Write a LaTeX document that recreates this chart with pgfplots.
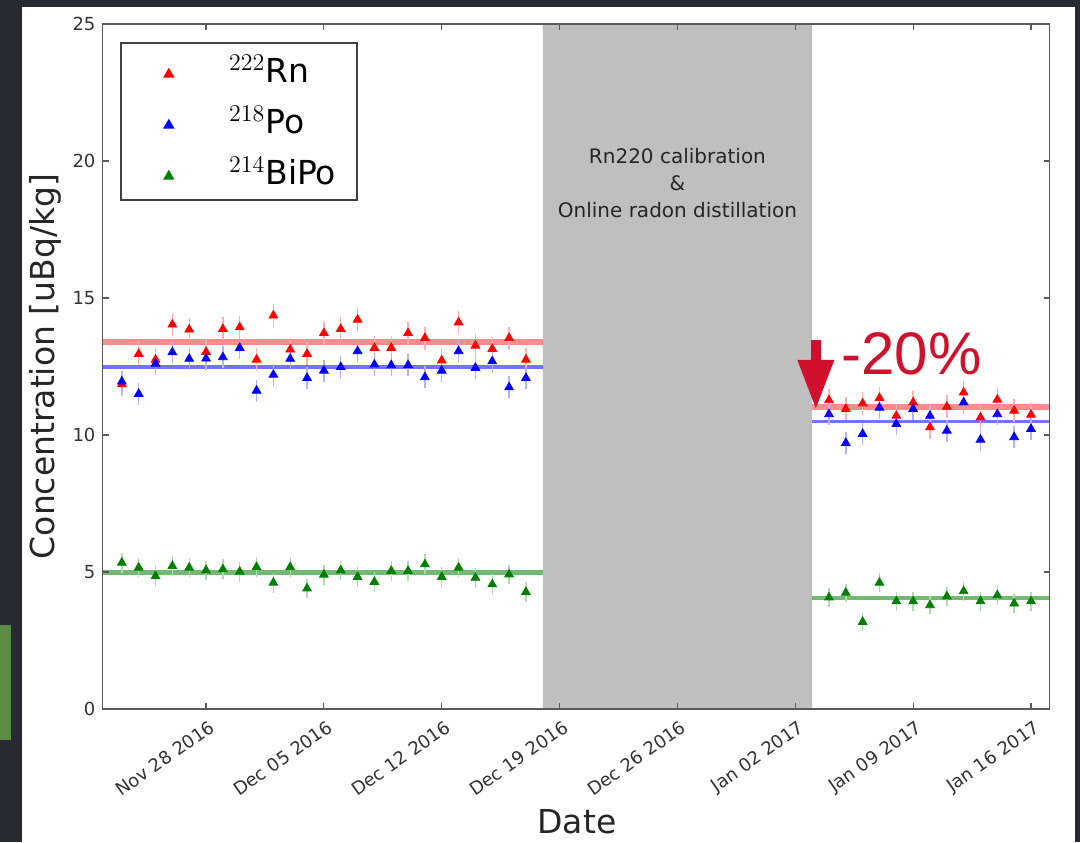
\documentclass[border=0pt]{standalone}
\usepackage{fontspec}
\setmainfont{DejaVu Sans}
\newfontfamily\helv{Liberation Sans}
\usepackage{pgfplots}
\pgfplotsset{compat=1.18}
\usepackage{pgfplotstable}
\usetikzlibrary{arrows.meta}

\definecolor{bgdark}{RGB}{40,41,50}
\definecolor{slidegreen}{RGB}{92,140,68}
\definecolor{bandgray}{RGB}{191,191,191}
\definecolor{annred}{RGB}{208,16,44}
\definecolor{mgreen}{RGB}{0,128,0}
\definecolor{framegray}{RGB}{90,90,90}

\pgfplotstableread{
x y e
-5 11.85 0.42
-4 12.96 0.42
-3 12.75 0.42
-2 14.03 0.42
-1 13.85 0.42
0 13.03 0.42
1 13.87 0.42
2 13.93 0.42
3 12.75 0.42
4 14.36 0.42
5 13.12 0.42
6 12.96 0.42
7 13.72 0.42
8 13.87 0.42
9 14.21 0.42
10 13.18 0.42
11 13.18 0.42
12 13.72 0.42
13 13.54 0.42
14 12.72 0.42
15 14.11 0.42
16 13.26 0.42
17 13.14 0.42
18 13.54 0.42
19 12.75 0.42
}\rnA
\pgfplotstableread{
x y e
37 11.27 0.42
38 10.95 0.42
39 11.15 0.42
40 11.35 0.42
41 10.70 0.42
42 11.19 0.42
43 10.28 0.42
44 11.03 0.42
45 11.55 0.42
46 10.64 0.42
47 11.29 0.42
48 10.89 0.42
49 10.74 0.42
}\rnB
\pgfplotstableread{
x y e
-5 11.95 0.40
-4 11.50 0.40
-3 12.60 0.40
-2 13.02 0.40
-1 12.78 0.40
0 12.79 0.40
1 12.84 0.40
2 13.18 0.40
3 11.62 0.40
4 12.20 0.40
5 12.78 0.40
6 12.08 0.40
7 12.35 0.40
8 12.48 0.40
9 13.06 0.40
10 12.57 0.40
11 12.55 0.40
12 12.55 0.40
13 12.11 0.40
14 12.35 0.40
15 13.06 0.40
16 12.45 0.40
17 12.69 0.40
18 11.74 0.40
19 12.08 0.40
}\poA
\pgfplotstableread{
x y e
37 10.76 0.40
38 9.71 0.40
39 10.04 0.40
40 11.00 0.40
41 10.40 0.40
42 10.95 0.40
43 10.70 0.40
44 10.16 0.40
45 11.19 0.40
46 9.83 0.40
47 10.76 0.40
48 9.92 0.40
49 10.22 0.40
}\poB
\pgfplotstableread{
x y e
-5 5.34 0.36
-4 5.16 0.36
-3 4.85 0.36
-2 5.22 0.36
-1 5.16 0.36
0 5.06 0.36
1 5.10 0.36
2 5.01 0.36
3 5.18 0.36
4 4.61 0.36
5 5.18 0.36
6 4.40 0.36
7 4.90 0.36
8 5.06 0.36
9 4.82 0.36
10 4.64 0.36
11 5.04 0.36
12 5.04 0.36
13 5.28 0.36
14 4.82 0.36
15 5.16 0.36
16 4.79 0.36
17 4.55 0.36
18 4.91 0.36
19 4.27 0.36
}\biA
\pgfplotstableread{
x y e
37 4.07 0.34
38 4.24 0.34
39 3.18 0.34
40 4.61 0.34
41 3.93 0.34
42 3.93 0.34
43 3.79 0.34
44 4.11 0.34
45 4.30 0.34
46 3.93 0.34
47 4.15 0.34
48 3.85 0.34
49 3.93 0.34
}\biB

\begin{document}
\begin{tikzpicture}
\fill[bgdark] (0,0) rectangle (540pt,421pt);
\fill[white] (11pt,0) rectangle (537.5pt,417.5pt);
\fill[slidegreen] (0,51pt) rectangle (5.5pt,108.5pt);
\begin{axis}[
  at={(51.25pt,66.5pt)}, anchor=south west,
  scale only axis, width=473.5pt, height=342.5pt,
  xmin=-6.15, xmax=50.1, ymin=0, ymax=25,
  xtick={0,7,14,21,28,35,42,49},
  xticklabels={Nov 28 2016,Dec 05 2016,Dec 12 2016,Dec 19 2016,Dec 26 2016,Jan 02 2017,Jan 09 2017,Jan 16 2017},
  ytick={0,5,10,15,20,25},
  /pgf/number format/assume math mode=true,
  tick align=inside, major tick length=3pt,
  tick style={framegray, line width=0.6pt},
  axis line style={framegray, line width=0.9pt},
  tick label style={font=\fontsize{9}{10}\selectfont, text=black!80},
  xticklabel style={xshift=1.5pt, yshift=-3pt, rotate=35, anchor=north east, inner sep=1.5pt},
  axis on top,
  xlabel={Date}, ylabel={Concentration [uBq/kg]},
  label style={font=\fontsize{16.5}{18}\selectfont, text=black!85},
  xlabel style={at={(axis description cs:0.501,-0.165)}, anchor=center},
  ylabel style={at={(axis description cs:-0.0607,0.5)}, anchor=center, rotate=0},
  legend style={at={(0.0185,0.9737)}, anchor=north west,
    draw=black!75, line width=0.8pt, fill=white,
    font=\fontsize{16.5}{18}\selectfont,
    inner xsep=8.5pt, inner ysep=4pt, row sep=6pt, column sep=26pt},
  legend cell align=left,
  legend image code/.code={\path[draw=none] (-15.5pt,0pt) -- (0pt,0pt); \draw[#1, only marks] plot coordinates {(0pt,-2pt)};},
]
% shaded period
\addplot[fill=bandgray, draw=none, forget plot] coordinates {(20,0) (20,25) (36,25) (36,0)} \closedcycle;
% mean lines
\addplot[red, opacity=0.45, line width=2.8pt, forget plot] coordinates {(-6.15,13.4) (20,13.4)};
\addplot[red, opacity=0.45, line width=2.8pt, forget plot] coordinates {(36,11.03) (50.1,11.03)};
\addplot[blue, opacity=0.55, line width=1.6pt, forget plot] coordinates {(-6.15,12.48) (20,12.48)};
\addplot[blue, opacity=0.55, line width=1.6pt, forget plot] coordinates {(36,10.49) (50.1,10.49)};
\addplot[mgreen, opacity=0.55, line width=2.2pt, forget plot] coordinates {(-6.15,4.98) (20,4.98)};
\addplot[mgreen, opacity=0.55, line width=2.2pt, forget plot] coordinates {(36,4.05) (50.1,4.05)};
% data
\addplot[only marks, mark=triangle*, mark size=2.5pt, color=red,
  error bars/.cd, y dir=both, y explicit, error mark=none,
  error bar style={red!30, line width=0.7pt}] table[x=x, y=y, y error=e] {\rnA};
\addlegendentry{$^{222}$Rn}
\addplot[only marks, mark=triangle*, mark size=2.5pt, color=blue,
  error bars/.cd, y dir=both, y explicit, error mark=none,
  error bar style={blue!30, line width=0.7pt}] table[x=x, y=y, y error=e] {\poA};
\addlegendentry{$^{218}$Po}
\addplot[only marks, mark=triangle*, mark size=2.5pt, color=mgreen,
  error bars/.cd, y dir=both, y explicit, error mark=none,
  error bar style={mgreen!30, line width=0.7pt}] table[x=x, y=y, y error=e] {\biA};
\addlegendentry{$^{214}$BiPo}
\addplot[only marks, mark=triangle*, mark size=2.5pt, color=red, forget plot,
  error bars/.cd, y dir=both, y explicit, error mark=none,
  error bar style={red!30, line width=0.7pt}] table[x=x, y=y, y error=e] {\rnB};
\addplot[only marks, mark=triangle*, mark size=2.5pt, color=blue, forget plot,
  error bars/.cd, y dir=both, y explicit, error mark=none,
  error bar style={blue!30, line width=0.7pt}] table[x=x, y=y, y error=e] {\poB};
\addplot[only marks, mark=triangle*, mark size=2.5pt, color=mgreen, forget plot,
  error bars/.cd, y dir=both, y explicit, error mark=none,
  error bar style={mgreen!30, line width=0.7pt}] table[x=x, y=y, y error=e] {\biB};
% annotations
\node[align=center, font=\fontsize{10}{13.5}\selectfont, text=black!85] at (axis cs:28,19.2)
  {Rn220 calibration\\\&\\Online radon distillation};
\draw[annred, line width=5pt, -{Triangle[width=17pt,length=25pt]}] (axis cs:36.22,13.47) -- (axis cs:36.22,10.92);
\node[anchor=base, font=\helv\fontsize{30}{30}\selectfont, text=annred, inner sep=0pt] at (axis cs:41.9,12.2) {-20\%};
\end{axis}
\pgfresetboundingbox
\path (0,0) rectangle (540pt,421pt);
\end{tikzpicture}
\end{document}
